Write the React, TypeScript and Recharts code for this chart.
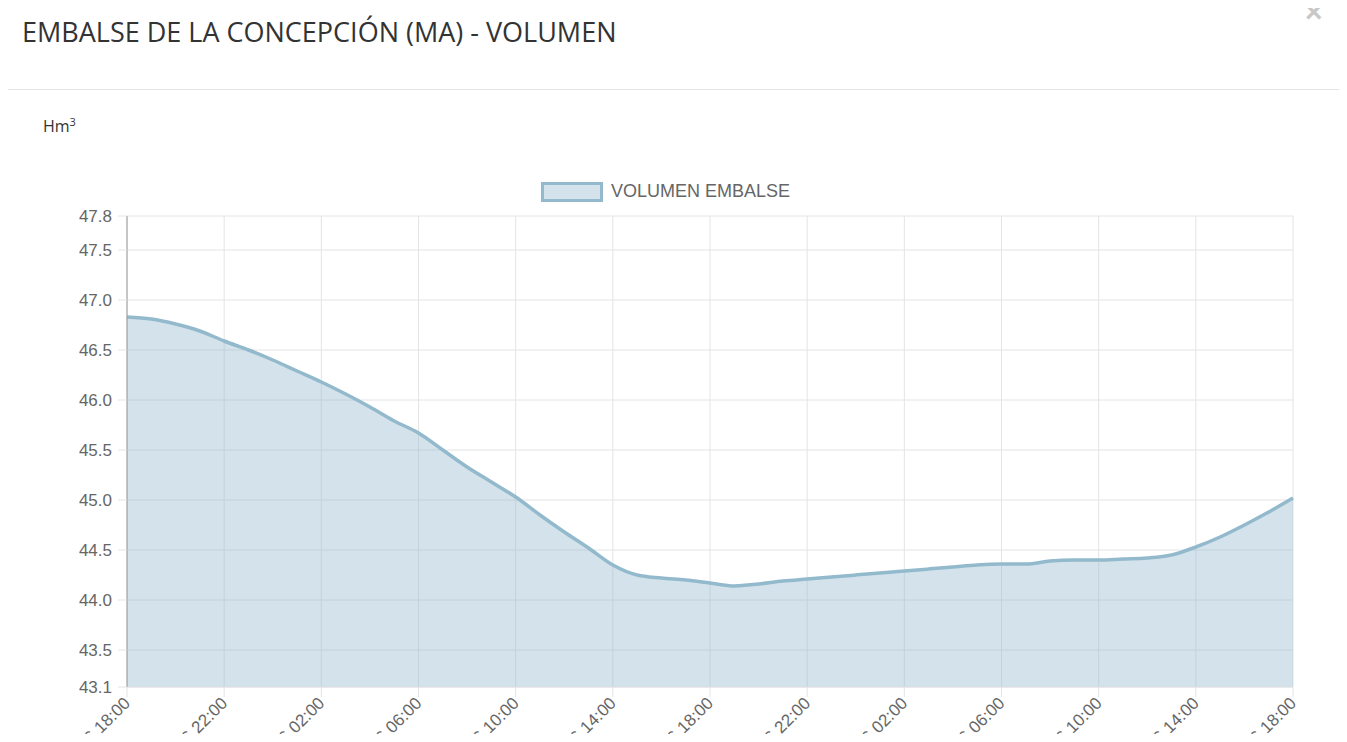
import React from "react"
import { AreaChart, Area, XAxis, YAxis, CartesianGrid } from "recharts"

// hourly volume readings (Hm3), 48 h window
const volumen = [
  46.83, 46.81, 46.76, 46.69, 46.59, 46.5, 46.4, 46.29, 46.18, 46.06, 45.93, 45.79,
  45.67, 45.5, 45.33, 45.18, 45.03, 44.85, 44.68, 44.52, 44.35, 44.25, 44.22, 44.2,
  44.17, 44.14, 44.16, 44.19, 44.21, 44.23, 44.25, 44.27, 44.29, 44.31, 44.33, 44.35,
  44.36, 44.36, 44.39, 44.4, 44.4, 44.41, 44.42, 44.45, 44.53, 44.63, 44.75, 44.88,
  45.02,
]

const horas = volumen.map((_, i) => i)

const xTicks = [0, 4, 8, 12, 16, 20, 24, 28, 32, 36, 40, 44, 48]
const xLabels = [
  "14/06/2016 18:00",
  "14/06/2016 22:00",
  "15/06/2016 02:00",
  "15/06/2016 06:00",
  "15/06/2016 10:00",
  "15/06/2016 14:00",
  "15/06/2016 18:00",
  "15/06/2016 22:00",
  "16/06/2016 02:00",
  "16/06/2016 06:00",
  "16/06/2016 10:00",
  "16/06/2016 14:00",
  "16/06/2016 18:00",
]

// axis min/max are not round numbers, labels show them with one decimal
const yMin = 43.13
const yMax = 47.84
const yTicks = [yMin, 43.5, 44, 44.5, 45, 45.5, 46, 46.5, 47, 47.5, yMax]

const data = horas.map((h, i) => ({ h, v: volumen[i] }))

const LINE = "#93b9cd"
const GRID = "#e4e4e4"
const FONT = "'Liberation Sans', Arial, sans-serif"
const TICK_FONT = { fontSize: 17, fill: "#666", fontFamily: FONT }

function XTick(props: any) {
  const { x, y, payload } = props
  return (
    <g transform={`translate(${x},${y})`}>
      <text
        transform="rotate(-45)"
        textAnchor="end"
        dy="0.35em"
        fontSize={17}
        fill="#666"
        fontFamily={FONT}
      >
        {xLabels[xTicks.indexOf(payload.value)]}
      </text>
    </g>
  )
}

export default function App() {
  return (
    <div
      style={{
        position: "relative",
        margin: -8,
        width: 1347,
        height: 742,
        overflow: "hidden",
        background: "#fff",
        fontFamily: "'Open Sans', sans-serif",
      }}
    >
      <div style={{ position: "absolute", left: 22, top: 13, fontSize: 27, color: "#333", whiteSpace: "nowrap" }}>
        EMBALSE DE LA CONCEPCIÓN (MA) - VOLUMEN
      </div>
      <div
        style={{
          position: "absolute",
          left: 1305,
          top: -3,
          fontSize: 30,
          lineHeight: 1,
          fontWeight: 700,
          color: "#c8c8c8",
          fontFamily: FONT,
        }}
      >
        ×
      </div>
      <div style={{ position: "absolute", left: -20, top: 89, width: 1400, height: 1, background: "#e5e5e5" }} />
      <div style={{ position: "absolute", left: 43, top: 114, fontSize: 16, color: "#333" }}>
        Hm<sup style={{ fontSize: 11 }}>3</sup>
      </div>

      {/* legend */}
      <div style={{ position: "absolute", left: 541, top: 181, display: "flex", alignItems: "center" }}>
        <div
          style={{
            width: 56,
            height: 14,
            border: `3px solid ${LINE}`,
            background: "rgba(147,185,205,0.4)",
          }}
        />
        <span style={{ marginLeft: 8, fontSize: 18, color: "#666", fontFamily: FONT }}>
          VOLUMEN EMBALSE
        </span>
      </div>

      <div style={{ position: "absolute", left: 0, top: 0 }}>
        <AreaChart width={1347} height={742} data={data} margin={{ top: 216, right: 54, bottom: 0, left: 0 }}>
          <CartesianGrid stroke={GRID} strokeWidth={1} />
          <XAxis
            dataKey="h"
            type="number"
            domain={[0, 48]}
            ticks={xTicks}
            interval={0}
            height={55}
            tickSize={10}
            tickMargin={3}
            tick={<XTick />}
            axisLine={{ stroke: GRID }}
            tickLine={{ stroke: GRID }}
          />
          <YAxis
            type="number"
            domain={[yMin, yMax]}
            ticks={yTicks}
            interval={0}
            allowDataOverflow
            width={127}
            tickSize={9}
            tickMargin={6}
            tickFormatter={(v: number) => v.toFixed(1)}
            tick={TICK_FONT}
            axisLine={{ stroke: "#999" }}
            tickLine={{ stroke: GRID }}
          />
          <Area
            type="monotone"
            dataKey="v"
            stroke={LINE}
            strokeWidth={3.5}
            fill={LINE}
            fillOpacity={0.4}
            baseValue="dataMin"
            dot={false}
            activeDot={false}
            isAnimationActive={false}
          />
        </AreaChart>
      </div>
    </div>
  )
}
